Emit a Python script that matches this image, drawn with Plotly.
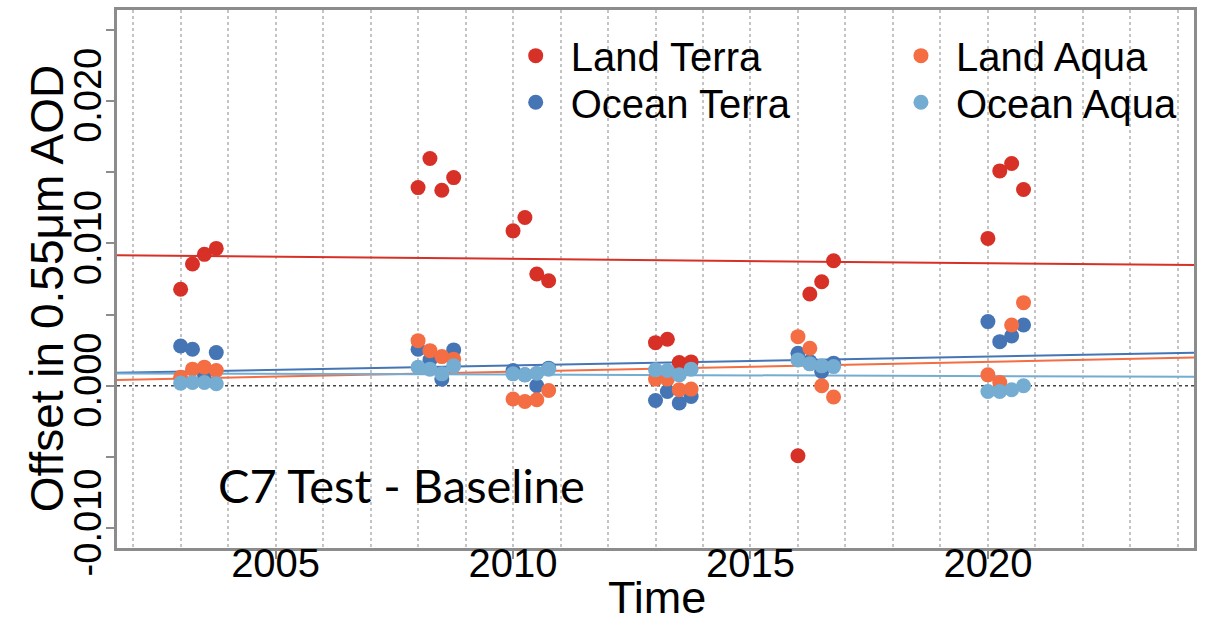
import numpy as np
import plotly.graph_objects as go

# ---------------- data ----------------
time = [2003.0, 2003.25, 2003.5, 2003.75,
        2008.0, 2008.25, 2008.5, 2008.75,
        2010.0, 2010.25, 2010.5, 2010.75,
        2013.0, 2013.25, 2013.5, 2013.75,
        2016.0, 2016.25, 2016.5, 2016.75,
        2020.0, 2020.25, 2020.5, 2020.75]

land_terra = [0.00678, 0.00855, 0.00923, 0.00965,
              0.01392, 0.01596, 0.01373, 0.01462,
              0.01088, 0.01182, 0.00785, 0.00738,
              0.00303, 0.00327, 0.00163, 0.00168,
              -0.00491, 0.00645, 0.00731, 0.00878,
              0.01035, 0.01509, 0.01561, 0.01378]

ocean_terra = [0.00280, 0.00257, 0.00080, 0.00233,
               0.00257, 0.00182, 0.00047, 0.00252,
               0.00107, 0.00077, 0.00000, 0.00124,
               -0.00103, -0.00040, -0.00121, -0.00075,
               0.00229, 0.00170, 0.00100, 0.00159,
               0.00451, 0.00310, 0.00350, 0.00427]

land_aqua = [0.00060, 0.00117, 0.00131, 0.00107,
             0.00317, 0.00247, 0.00205, 0.00187,
             -0.00093, -0.00110, -0.00098, -0.00033,
             0.00047, 0.00047, -0.00028, -0.00023,
             0.00345, 0.00264, 0.00000, -0.00079,
             0.00077, 0.00023, 0.00427, 0.00584]

ocean_aqua = [0.00019, 0.00023, 0.00023, 0.00014,
              0.00131, 0.00117, 0.00084, 0.00140,
              0.00084, 0.00077, 0.00089, 0.00117,
              0.00112, 0.00107, 0.00077, 0.00117,
              0.00182, 0.00154, 0.00140, 0.00135,
              -0.00040, -0.00040, -0.00028, 0.00000]

series_names = ["Land Terra", "Ocean Terra", "Land Aqua", "Ocean Aqua"]
series_values = [land_terra, ocean_terra, land_aqua, ocean_aqua]
series_colors = ["#d73027", "#4575b4", "#f46d43", "#74add1"]
series_legend = ["legend", "legend2", "legend3", "legend4"]

x_tick_vals = [2005, 2010, 2015, 2020]
y_tick_vals = [-0.010, 0.000, 0.010, 0.020]
y_tick_text = ["-0.010", "0.000", "0.010", "0.020"]

x_range = [2001.66, 2024.34]
y_range = [-0.01139, 0.02639]

# ---------------- figure ----------------
fig = go.Figure()

# regression lines (full width, like abline)
for name, vals, col in zip(series_names, series_values, series_colors):
    slope, icpt = np.polyfit(np.array(time), np.array(vals), 1)
    xs = np.array(x_range)
    fig.add_trace(go.Scatter(x=xs, y=icpt + slope * xs, mode="lines",
                             line=dict(color=col, width=2),
                             showlegend=False, hoverinfo="skip"))

# points
for name, vals, col, lg in zip(series_names, series_values, series_colors, series_legend):
    fig.add_trace(go.Scatter(x=time, y=vals, mode="markers", name=name,
                             marker=dict(color=col, size=15, line=dict(width=0)),
                             legend=lg))

axis_gray = "#8c8c8c"
grid_gray = "#c4c4c4"

fig.add_shape(type="line", xref="paper", x0=0, x1=1, yref="y", y0=0, y1=0,
              line=dict(color="#444444", width=1.5, dash="dot"), layer="below")

fig.add_annotation(text="C7 Test - Baseline", xref="paper", yref="paper",
                   x=0.0919, y=0.1176, xanchor="left", yanchor="middle",
                   showarrow=False, font=dict(family="Lato, Open Sans", size=47, color="black"))

# axis titles
fig.add_annotation(text="Time", xref="paper", yref="paper",
                   x=0.5013, y=-0.1425, xanchor="center", yanchor="bottom",
                   showarrow=False, font=dict(size=45, color="black"))
fig.add_annotation(text="Offset in 0.55\u03bcm AOD", xref="paper", yref="paper",
                   x=-0.0655, y=0.4836, xanchor="center", yanchor="middle", textangle=-90,
                   showarrow=False, font=dict(size=46, color="black"))

legend_common = dict(orientation="v", xref="container", yref="container",
                     xanchor="left", yanchor="top",
                     bgcolor="rgba(0,0,0,0)", itemwidth=60,
                     font=dict(size=40, color="black", family="Liberation Sans, Arial"))

col1_x, col2_x = 0.4138, 0.7322
row1_y, row2_y = 0.963, 0.8885

fig.update_layout(
    width=1210, height=625,
    margin=dict(l=117, r=16, t=10, b=77, autoexpand=False),
    plot_bgcolor="white", paper_bgcolor="white",
    font=dict(family="Liberation Sans, Arial", color="black"),
    legend=dict(x=col1_x, y=row1_y, **legend_common),
    legend2=dict(x=col1_x, y=row2_y, **legend_common),
    legend3=dict(x=col2_x, y=row1_y, **legend_common),
    legend4=dict(x=col2_x, y=row2_y, **legend_common),
    xaxis=dict(range=x_range, tickmode="array", tickvals=x_tick_vals,
               ticks="outside", ticklen=8, tickwidth=1.5, tickcolor=axis_gray,
               tickfont=dict(size=40), ticklabelstandoff=-30,
               showgrid=True, gridcolor=grid_gray, griddash="dot", gridwidth=1.5,
               minor=dict(tickmode="linear", tick0=2000, dtick=1, showgrid=True,
                          gridcolor=grid_gray, griddash="dot", gridwidth=1.5, ticks=""),
               showline=True, linecolor=axis_gray, linewidth=2.5, mirror=True,
               zeroline=False, automargin=False),
    yaxis=dict(range=y_range, tickmode="array", tickvals=y_tick_vals, ticktext=y_tick_text,
               tickangle=-90, ticks="outside", ticklen=8, tickwidth=1.5, tickcolor=axis_gray,
               tickfont=dict(size=38), ticklabelstandoff=-10,
               minor=dict(tickmode="linear", tick0=0, dtick=0.005, ticks="outside",
                          ticklen=8, tickwidth=1.5, tickcolor=axis_gray, showgrid=False),
               showgrid=False, showline=True, linecolor=axis_gray, linewidth=2.5, mirror=True,
               zeroline=False, automargin=False),
)

fig.write_html("out.html")
